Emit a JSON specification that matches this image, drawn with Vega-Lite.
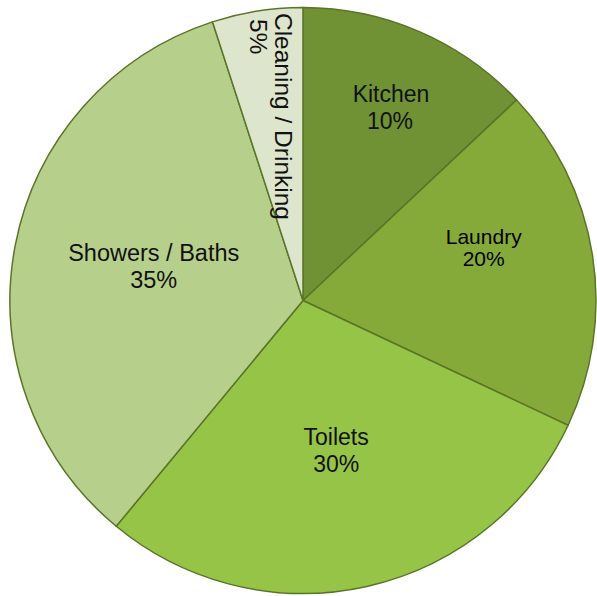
{
  "$schema": "https://vega.github.io/schema/vega-lite/v6.json",
  "width": 597,
  "height": 596,
  "autosize": {"type": "fit", "contains": "padding"},
  "padding": {"left": 10, "right": 1, "top": 6, "bottom": 1},
  "background": "white",
  "config": {"view": {"stroke": null}},
  "data": {
    "values": [
      {"idx": 1, "category": "Kitchen", "share": 13, "label": "10%"},
      {"idx": 2, "category": "Laundry", "share": 19, "label": "20%"},
      {"idx": 3, "category": "Toilets", "share": 29, "label": "30%"},
      {"idx": 4, "category": "Showers / Baths", "share": 34, "label": "35%"},
      {"idx": 5, "category": "Cleaning / Drinking", "share": 5, "label": "5%"}
    ]
  },
  "encoding": {
    "theta": {"field": "share", "type": "quantitative", "stack": true},
    "order": {"field": "idx", "type": "quantitative"}
  },
  "layer": [
    {
      "mark": {"type": "arc", "outerRadius": 293, "stroke": "#5a7528", "strokeWidth": 1.5},
      "encoding": {
        "color": {
          "field": "category",
          "type": "nominal",
          "legend": null,
          "scale": {
            "domain": ["Kitchen", "Laundry", "Toilets", "Showers / Baths", "Cleaning / Drinking"],
            "range": ["#709234", "#86aa3a", "#96c446", "#b6d08b", "#dde5cc"]
          }
        }
      }
    },
    {
      "mark": {"type": "text", "radius": 214, "dx": 3, "dy": -9, "fontSize": 23, "font": "Liberation Sans", "fill": "#111111"},
      "encoding": {"text": {"condition": {"test": "datum.category === 'Kitchen'", "field": "category"}, "value": ""}}
    },
    {
      "mark": {"type": "text", "radius": 214, "dx": 2, "dy": 18, "fontSize": 23, "font": "Liberation Sans", "fill": "#111111"},
      "encoding": {"text": {"condition": {"test": "datum.category === 'Kitchen'", "field": "label"}, "value": ""}}
    },
    {
      "mark": {"type": "text", "radius": 188, "dx": -5, "dy": -33, "fontSize": 21, "font": "Liberation Sans", "fill": "#000000"},
      "encoding": {"text": {"condition": {"test": "datum.category === 'Laundry'", "field": "category"}, "value": ""}}
    },
    {
      "mark": {"type": "text", "radius": 188, "dx": -5, "dy": -11, "fontSize": 21, "font": "Liberation Sans", "fill": "#000000"},
      "encoding": {"text": {"condition": {"test": "datum.category === 'Laundry'", "field": "label"}, "value": ""}}
    },
    {
      "mark": {"type": "text", "radius": 152, "dx": 0, "dy": -11, "fontSize": 23, "font": "Liberation Sans", "fill": "#111111"},
      "encoding": {"text": {"condition": {"test": "datum.category === 'Toilets'", "field": "category"}, "value": ""}}
    },
    {
      "mark": {"type": "text", "radius": 152, "dx": 0, "dy": 16, "fontSize": 23, "font": "Liberation Sans", "fill": "#111111"},
      "encoding": {"text": {"condition": {"test": "datum.category === 'Toilets'", "field": "label"}, "value": ""}}
    },
    {
      "mark": {"type": "text", "radius": 152, "dx": 0, "dy": -18, "fontSize": 23.5, "font": "Liberation Sans", "fill": "#111111"},
      "encoding": {"text": {"condition": {"test": "datum.category === 'Showers / Baths'", "field": "category"}, "value": ""}}
    },
    {
      "mark": {"type": "text", "radius": 152, "dx": 0, "dy": 9, "fontSize": 23.5, "font": "Liberation Sans", "fill": "#111111"},
      "encoding": {"text": {"condition": {"test": "datum.category === 'Showers / Baths'", "field": "label"}, "value": ""}}
    },
    {
      "mark": {"type": "text", "radius": 200, "angle": 90, "align": "left", "baseline": "middle", "dx": -90, "dy": -10, "fontSize": 24.5, "font": "Liberation Sans", "fill": "#111111"},
      "encoding": {"text": {"condition": {"test": "datum.category === 'Cleaning / Drinking'", "field": "category"}, "value": ""}}
    },
    {
      "mark": {"type": "text", "radius": 200, "angle": 90, "align": "left", "baseline": "middle", "dx": -84, "dy": 15, "fontSize": 24.5, "font": "Liberation Sans", "fill": "#111111"},
      "encoding": {"text": {"condition": {"test": "datum.category === 'Cleaning / Drinking'", "field": "label"}, "value": ""}}
    }
  ]
}
